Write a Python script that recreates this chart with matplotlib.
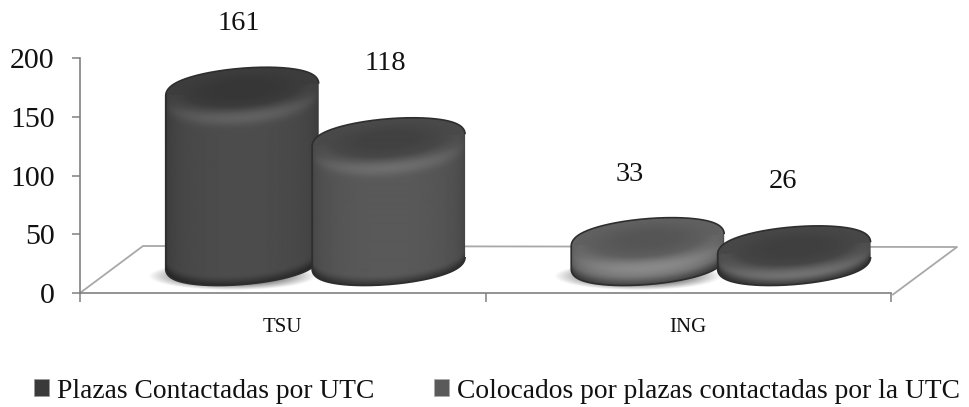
import numpy as np
import matplotlib
matplotlib.use("Agg")
import matplotlib.pyplot as plt
from matplotlib.patches import Patch, PathPatch
from matplotlib.path import Path

categories = ["TSU", "ING"]
series_names = ["Plazas Contactadas por UTC", "Colocados por plazas contactadas por la UTC"]
plazas = [161, 33]
colocados = [118, 26]
y_ticks = [0, 50, 100, 150, 200]

plt.rcParams["font.family"] = ["Liberation Serif", "DejaVu Serif"]
W, H = 969, 407
fig = plt.figure(figsize=(W / 100, H / 100), dpi=100)
L, R, B, T = 80, 891, 293, 58
ax = fig.add_axes([L / W, 1 - B / H, (R - L) / W, (B - T) / H])
ax.set_xlim(0, 2)
ax.set_ylim(0, 200)
ax.set_autoscale_on(False)
PX = (R - L) / 2      # pixels per x unit
PY = (B - T) / 200    # pixels per y unit

# 3D look parameters (in pixels / data units)
A, Bb, SHEAR = 76.5, 21.5, np.tan(np.radians(4.5))
ROUND = 6             # corner rounding of the silhouette
BASE_DATA = 25.5      # floor position of the cylinder base centres
LIFT = 12             # perspective lift of the top centres
OFFS = [-0.1, 0.261]  # bar offset from category centre

def ellipse(cxp, cyp):
    t = np.linspace(0, 2 * np.pi, 361)[:-1]
    a1, b1 = A - ROUND, Bb - ROUND
    nx, ny = b1 * np.cos(t), a1 * np.sin(t)
    n = np.hypot(nx, ny)
    ex = a1 * np.cos(t) + ROUND * nx / n
    ey = b1 * np.sin(t) + ROUND * ny / n
    return ex + cxp, ey + ex * SHEAR + cyp

def silhouette(cxp, ytop, ybot):
    x, y = ellipse(cxp, ytop)
    x2, y2 = ellipse(cxp, ybot)
    up = np.arange(0, 181)
    lo = np.r_[180:360, 0]
    px = np.r_[x[up], x2[lo]]
    py = np.r_[y[up], y2[lo]]
    return np.column_stack([px / PX, py / PY])

def smooth(e0, e1, v):
    s = np.clip((v - e0) / (e1 - e0), 0, 1)
    return s * s * (3 - 2 * s)

def cylinder(xc, value, wall, top, hl):
    cxp = xc * PX
    ytop = (value + LIFT) * PY
    ybot = BASE_DATA * PY
    h = max(ytop - ybot, 1)
    xs = np.arange(cxp - A - 6, cxp + A + 6, 1.0)
    ys = np.arange(ybot - Bb - 10, ytop + Bb + 10, 1.0)
    X, Y = np.meshgrid(xs - cxp, ys - ytop)
    V = Y - X * SHEAR
    u = np.clip(X / A, -1, 1)
    rim = np.sqrt(1 - u ** 2)
    d = np.maximum(-Bb * rim - V, 0)
    wall_sh = wall * (0.68 + 0.32 * rim ** 0.6) + hl * np.exp(-((d - 7) / 7) ** 2) * rim
    wall_sh = wall_sh * (1 - 0.45 * smooth(h - 10, h + 3, d))
    r = np.sqrt(u ** 2 + (V / Bb) ** 2)
    top_sh = top * (0.88 + 0.12 * smooth(0.2, 1, r))
    m = smooth(0.7, 1.1, r)
    sh = np.where(V < 0, top_sh * (1 - m) + wall_sh * m, top_sh)
    im = ax.imshow(sh, cmap="gray", vmin=0, vmax=1, origin="lower", aspect="auto",
                   extent=[xs[0] / PX, xs[-1] / PX, ys[0] / PY, ys[-1] / PY],
                   interpolation="bilinear", zorder=3)
    outline = PathPatch(Path(silhouette(cxp, ytop, ybot)), fc="none", ec="#2e2e2e",
                        lw=1.2, zorder=3, transform=ax.transData)
    ax.add_patch(outline)
    im.set_clip_path(outline)

def shadow(xc):
    cxp = xc * PX - 10
    cyp = BASE_DATA * PY - 13
    xs = np.arange(cxp - 100, cxp + 100, 1.0)
    ys = np.arange(cyp - 22, cyp + 22, 1.0)
    X, Y = np.meshgrid(xs - cxp, ys - cyp)
    r = np.sqrt((X / 70) ** 2 + (Y / 12) ** 2)
    rgba = np.zeros(X.shape + (4,))
    rgba[..., :3] = 0.4
    rgba[..., 3] = np.clip((1.2 - r) * 1.6, 0, 0.75)
    ax.imshow(rgba, origin="lower", aspect="auto", interpolation="bilinear", zorder=2,
              extent=[xs[0] / PX, xs[-1] / PX, ys[0] / PY, ys[-1] / PY])

# floor
fx = np.array([0, 63, 877, 813]) / PX
fy = np.array([0, 47, 46, -1.5]) / PY
ax.plot(fx, fy, color="#a8a8a8", lw=1.3, clip_on=False, zorder=1)

# bars
centres = [0.5, 1.5]
wall_shades = [[0.30, 0.35], [0.46, 0.37]]
top_shades = [[0.24, 0.29], [0.38, 0.28]]
label_dx = [[-3, -3], [-18, -11]]
label_dy = [[66, 77], [66, 67]]
for i, c in enumerate(centres):
    shadow(c + OFFS[0])
    for j, vals in enumerate([plazas, colocados]):
        xc = c + OFFS[j]
        wall, top = wall_shades[i][j], top_shades[i][j]
        cylinder(xc, vals[i], wall, top, 0.08)
        ax.annotate(str(vals[i]), (xc, vals[i] + LIFT),
                    xytext=(label_dx[i][j] * 0.72, label_dy[i][j] * 0.72),
                    textcoords="offset points", ha="center", va="center",
                    fontsize=20.5, color="#111111", annotation_clip=False)

# axes
ax.patch.set_alpha(0)
for s in ["top", "right"]:
    ax.spines[s].set_visible(False)
for s in ["left", "bottom"]:
    ax.spines[s].set_color("#808080")
    ax.spines[s].set_linewidth(1.2)
ax.set_yticks(y_ticks)
ax.tick_params(axis="y", length=6, width=1.1, color="#808080", pad=12.3, labelsize=21.5, labelcolor="#111111")
ax.set_xticks([0, 1, 2])
ax.set_xticklabels([])
ax.set_xticks(centres, categories, minor=True)
ax.tick_params(axis="x", which="major", length=6.5, width=1.1, color="#808080")
ax.tick_params(axis="x", which="minor", length=0, pad=18, labelsize=15, labelcolor="#111111")

handles = [Patch(fc="#3a3a3a", ec="#999999", lw=0.5), Patch(fc="#5a5a5a", ec="#aaaaaa", lw=0.5)]
fig.legend(handles, series_names, ncol=2, frameon=False, loc="center left",
           bbox_to_anchor=(34 / W, 1 - 391 / H), borderpad=0, borderaxespad=0,
           handlelength=0.55, handleheight=0.55, handletextpad=0.3, columnspacing=2.15,
           fontsize=19.8, labelcolor="#111111")

fig.savefig("out.png", dpi=100)
